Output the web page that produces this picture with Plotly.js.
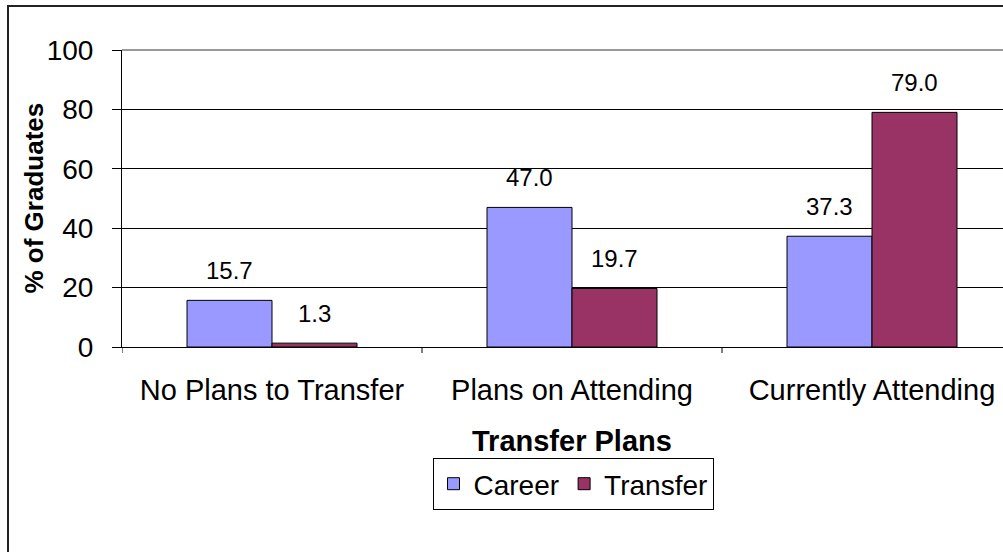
<!DOCTYPE html>
<html>
<head>
<meta charset="utf-8">
<script src="https://cdn.plot.ly/plotly-3.0.1.min.js"></script>
<style>html,body{margin:0;padding:0;overflow:hidden;background:#fff}</style>
</head>
<body>
<div id="chart" style="width:1003px;height:552px"></div>
<script>
const categories = ["No Plans to Transfer", "Plans on Attending", "Currently Attending"];
const careerValues = [15.7, 47.0, 37.3];
const transferValues = [1.3, 19.7, 79.0];
const seriesNames = ["Career", "Transfer"];
const yTickValues = [0, 20, 40, 60, 80, 100];

const FONT = "Liberation Sans, Arial, sans-serif";
const W = 1003, H = 552;
const L = 122, R = 0, T = 50, B = 205;
const plotW = W - L - R, plotH = H - T - B;
const catPx = 300; // pixel width of one category
const xMax = -0.5 + plotW / catPx;
const px2x = p => (p - L) / plotW;
const px2y = p => (H - B - p) / plotH;

const barWidth = 85 / catPx;
const traces = [
  {type: "bar", name: seriesNames[0], x: [0, 1, 2], y: careerValues,
   marker: {color: "#9999FF", line: {color: "#000", width: 1}}, width: barWidth, offset: -barWidth},
  {type: "bar", name: seriesNames[1], x: [0, 1, 2], y: transferValues,
   marker: {color: "#993366", line: {color: "#000", width: 1}}, width: barWidth, offset: 0}
];

const annotations = [];
[careerValues, transferValues].forEach((vals, s) => {
  vals.forEach((v, i) => {
    annotations.push({
      x: i + (s === 0 ? -barWidth / 2 : barWidth / 2), y: v, xref: "x", yref: "y",
      text: v.toFixed(1), showarrow: false, yanchor: "bottom", yshift: 14,
      font: {family: FONT, size: 24, color: "#000"}
    });
  });
});
annotations.push({
  x: 1, xref: "x", y: px2y(441), yref: "paper", text: "<b>Transfer Plans</b>",
  showarrow: false, yanchor: "middle", font: {family: FONT, size: 29, color: "#000"}
});
annotations.push({
  x: px2x(33), xref: "paper", y: 0.5, yref: "paper", text: "<b>% of Graduates</b>",
  textangle: -90, showarrow: false, xanchor: "center", yanchor: "middle",
  font: {family: FONT, size: 26, color: "#000"}
});

const layout = {
  width: W, height: H,
  margin: {l: L, r: R, t: T, b: B, pad: 0},
  paper_bgcolor: "#fff", plot_bgcolor: "#fff",
  font: {family: FONT, color: "#000"},
  showlegend: true,
  legend: {
    orientation: "h", x: px2x(573), xanchor: "center", y: px2y(458), yanchor: "top",
    bordercolor: "#000", borderwidth: 1, font: {family: FONT, size: 28, color: "#000"},
    itemwidth: 30, bgcolor: "#fff"
  },
  xaxis: {
    type: "linear", range: [-0.5, xMax], tickmode: "array",
    tickvals: [0, 1, 2], ticktext: categories, showgrid: false, zeroline: false,
    showline: true, linecolor: "#000", linewidth: 1,
    ticks: "", tickfont: {family: FONT, size: 29, color: "#000"}, ticklabelstandoff: 17
  },
  yaxis: {
    range: [0, 100], tickmode: "array", tickvals: yTickValues, ticktext: yTickValues.map(String),
    showgrid: true, gridcolor: "#000", gridwidth: 1, zeroline: false,
    showline: true, linecolor: "#000", linewidth: 1,
    ticks: "outside", ticklen: 9, tickcolor: "#000",
    tickfont: {family: FONT, size: 28, color: "#000"}, ticklabelstandoff: 13
  },
  annotations: annotations,
  shapes: [
    // plot area top border (grey)
    {type: "line", xref: "paper", yref: "paper", x0: 0, x1: 1, y0: 1, y1: 1, line: {color: "#999", width: 2}},
    // category boundary ticks on x axis
    ...[-0.5, 0.5, 1.5].map(b => ({type: "line", xref: "x", yref: "paper", x0: b, x1: b, y0: 0, y1: px2y(H - B + 6), line: {color: "#000", width: 1}})),
    // outer chart border
    {type: "rect", xref: "paper", yref: "paper", x0: px2x(8), x1: px2x(W + 20), y0: px2y(6), y1: px2y(H + 20),
     line: {color: "#222", width: 2}, fillcolor: "rgba(0,0,0,0)", layer: "below"}
  ]
};

Plotly.newPlot("chart", traces, layout, {displayModeBar: false, staticPlot: true});
</script>
</body>
</html>
